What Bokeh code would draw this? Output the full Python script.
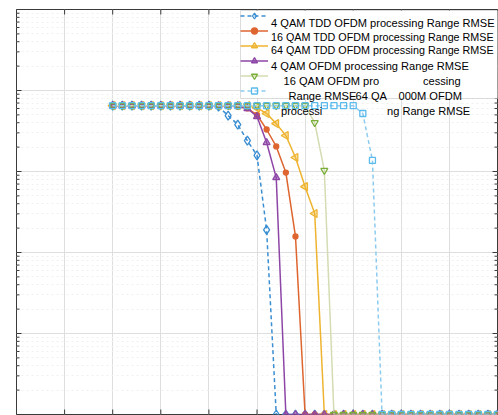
import numpy as np
from bokeh.plotting import figure
from bokeh.models import (Range1d, FixedTicker, Legend, LegendItem, BoxAnnotation, Label)
from bokeh.core.properties import value
from bokeh.embed import file_html
from bokeh.resources import INLINE

# ---------------- data ----------------
snr = [10, 11, 12, 13, 14, 15, 16, 17, 18, 19, 20, 21, 22, 23, 24, 25, 26, 27, 28, 29,
       30, 31, 32, 33, 34, 35, 36, 37, 38, 39, 40, 41, 42, 43, 44, 45, 46, 47, 48, 49, 50]

rmse_4qam_tdd = [0.65, 0.65, 0.65, 0.65, 0.65, 0.65, 0.65, 0.65, 0.65, 0.65, 0.65,
                 0.63, 0.49, 0.38, 0.24, 0.158, 0.019,
                 1e-4, 1e-4, 1e-4, 1e-4, 1e-4, 1e-4, 1e-4, 1e-4, 1e-4, 1e-4, 1e-4, 1e-4,
                 1e-4, 1e-4, 1e-4, 1e-4, 1e-4, 1e-4, 1e-4, 1e-4, 1e-4, 1e-4, 1e-4, 1e-4]
rmse_16qam_tdd = [0.65, 0.65, 0.65, 0.65, 0.65, 0.65, 0.65, 0.65, 0.65, 0.65, 0.65, 0.65, 0.65,
                  0.63, 0.60, 0.50, 0.33, 0.204, 0.097, 0.0158,
                  1e-4, 1e-4, 1e-4, 1e-4, 1e-4, 1e-4, 1e-4, 1e-4, 1e-4, 1e-4, 1e-4,
                  1e-4, 1e-4, 1e-4, 1e-4, 1e-4, 1e-4, 1e-4, 1e-4, 1e-4, 1e-4]
rmse_64qam_tdd = [0.65, 0.65, 0.65, 0.65, 0.65, 0.65, 0.65, 0.65, 0.65, 0.65, 0.65, 0.65, 0.65,
                  0.65, 0.65,
                  0.61, 0.52, 0.39, 0.278, 0.149, 0.065, 0.0303,
                  1e-4, 1e-4, 1e-4, 1e-4, 1e-4, 1e-4, 1e-4, 1e-4, 1e-4, 1e-4,
                  1e-4, 1e-4, 1e-4, 1e-4, 1e-4, 1e-4, 1e-4, 1e-4, 1e-4]
rmse_4qam_ofdm = [0.65, 0.65, 0.65, 0.65, 0.65, 0.65, 0.65, 0.65, 0.65, 0.65, 0.65, 0.65, 0.65,
                  0.65,
                  0.60, 0.477, 0.228, 0.084,
                  1e-4, 1e-4, 1e-4, 1e-4, 1e-4, 1e-4, 1e-4, 1e-4, 1e-4, 1e-4, 1e-4, 1e-4,
                  1e-4, 1e-4, 1e-4, 1e-4, 1e-4, 1e-4, 1e-4, 1e-4, 1e-4, 1e-4, 1e-4]
rmse_16qam_ofdm = [0.65, 0.65, 0.65, 0.65, 0.65, 0.65, 0.65, 0.65, 0.65, 0.65, 0.65, 0.65, 0.65,
                   0.65, 0.65, 0.65, 0.65, 0.65, 0.65, 0.65, 0.65,
                   0.40, 0.103,
                   1e-4, 1e-4, 1e-4, 1e-4, 1e-4, 1e-4, 1e-4, 1e-4, 1e-4,
                   1e-4, 1e-4, 1e-4, 1e-4, 1e-4, 1e-4, 1e-4, 1e-4, 1e-4]
rmse_64qam_ofdm = [0.65, 0.65, 0.65, 0.65, 0.65, 0.65, 0.65, 0.65, 0.65, 0.65, 0.65, 0.65, 0.65,
                   0.65, 0.65, 0.65, 0.65, 0.65, 0.65, 0.65, 0.65, 0.65, 0.65, 0.65, 0.65, 0.65,
                   0.52, 0.137,
                   1e-4, 1e-4, 1e-4, 1e-4, 1e-4, 1e-4, 1e-4, 1e-4, 1e-4, 1e-4, 1e-4, 1e-4, 1e-4]

x_ticks = [0, 5, 10, 15, 20, 25, 30, 35, 40, 45, 50]
y_ticks = [1e-4, 1e-3, 1e-2, 1e-1, 1e0, 1e1]
y_minor_ticks = [m * d for d in y_ticks[:-1] for m in (2, 3, 4, 5, 6, 7, 8, 9)]
X_MIN, X_MAX, Y_MIN, Y_MAX = 0, 50, 1e-4, 10

# legend text fragments as they appear in the picture (text, canvas x, canvas y, font px)
legend_texts = [
    ("4 QAM TDD OFDM processing Range RMSE", 270.5, 22.5, "11.1px"),
    ("16 QAM TDD OFDM processing Range RMSE", 270.5, 36.0, "10.75px"),
    ("64 QAM TDD OFDM processing Range RMSE", 270.5, 49.5, "10.75px"),
    ("4 QAM OFDM processing Range RMSE", 270.5, 65.5, "11.1px"),
    ("16 QAM OFDM pro", 283.0, 80.0, "11.1px"),
    ("cessing", 422.5, 80.0, "11.1px"),
    ("Range RMSE", 288.0, 95.0, "11.1px"),
    ("64 QA", 355.0, 95.0, "11.1px"),
    ("000M OFDM", 398.0, 95.0, "11.1px"),
    ("processi", 280.5, 110.0, "11.1px"),
    ("ng Range RMSE", 386.5, 110.0, "11.1px"),
]

# ---------------- figure ----------------
W, H = 498, 415
ML, MR, MT, MB = 16, 1, 9, 1
p = figure(width=W, height=H, x_range=Range1d(X_MIN, X_MAX), y_range=Range1d(Y_MIN, Y_MAX),
           y_axis_type="log", output_backend="svg", toolbar_location=None,
           min_border_left=ML, min_border_right=MR, min_border_top=MT, min_border_bottom=MB,
           background_fill_color="white", border_fill_color="white")
p.outline_line_color = "#3a3a3a"
p.outline_line_width = 1
p.xaxis.visible = False
p.yaxis.visible = False

xt = FixedTicker(ticks=x_ticks, minor_ticks=[])
yt = FixedTicker(ticks=y_ticks, minor_ticks=y_minor_ticks)
p.xgrid.ticker = xt
p.ygrid.ticker = yt
p.xgrid.grid_line_color = "#dedede"
p.ygrid.grid_line_color = "#dedede"
p.ygrid.minor_grid_line_color = "#f0f0f0"
p.ygrid.minor_grid_line_dash = "2 3"

# inward tick marks: half-clipped dash markers on the frame edges
tick_col = "#3a3a3a"
for yy in (Y_MIN, Y_MAX):
    p.scatter(x_ticks, [yy] * len(x_ticks), marker="dash", angle=np.pi / 2, size=10,
              line_color=tick_col, line_width=1)
for xx in (X_MIN, X_MAX):
    p.scatter([xx] * len(y_ticks), y_ticks, marker="dash", size=10,
              line_color=tick_col, line_width=1)
    p.scatter([xx] * len(y_minor_ticks), y_minor_ticks, marker="dash", size=6,
              line_color=tick_col, line_width=1)

styles = [
    dict(data=rmse_4qam_tdd, color="#3a8ed2", line="#3a8ed2", dash="4 3", marker="diamond",
         size=9, fill_alpha=0.0, angle=0.0),
    dict(data=rmse_16qam_tdd, color="#de6530", line="#de6530", dash="solid", marker="circle",
         size=5, fill_alpha=1.0, angle=0.0),
    dict(data=rmse_64qam_tdd, color="#eeb430", line="#eeb430", dash="solid", marker="triangle",
         size=8, fill_alpha=0.4, angle=np.pi / 2),
    dict(data=rmse_4qam_ofdm, color="#8e46a6", line="#8e46a6", dash="solid", marker="triangle",
         size=7, fill_alpha=0.6, angle=0.0),
    dict(data=rmse_16qam_ofdm, color="#7aae38", line="#d3dcb2", dash="solid", marker="inverted_triangle",
         size=7, fill_alpha=0.0, angle=0.0),
    dict(data=rmse_64qam_ofdm, color="#5bbbec", line="#8ccbef", dash="4 3", marker="square",
         size=6, fill_alpha=0.0, angle=0.0),
]

items = []
for s in styles:
    rl = p.line(snr, s["data"], line_color=s["line"], line_width=1.5, line_dash=s["dash"])
    rm = p.scatter(snr, s["data"], marker=s["marker"], size=s["size"], line_color=s["color"],
                   fill_color=s["color"], fill_alpha=s["fill_alpha"], line_width=1.3,
                   angle=s["angle"])
    items.append(LegendItem(label=value(""), renderers=[rl, rm]))

# legend box
box = BoxAnnotation(left=240 - ML, right=W, top=H - MB - 10, bottom=H - MB - 98,
                    left_units="screen", right_units="screen", top_units="screen",
                    bottom_units="screen", fill_color="white", fill_alpha=1.0,
                    line_color="#8a8a8a", line_width=1)
p.add_layout(box)

legend = Legend(items=items, location=(240 - ML, (H - MB) - 97.5), padding=0, margin=0,
                spacing=0, glyph_width=28, glyph_height=15, label_height=15, label_width=1,
                label_standoff=0, border_line_alpha=0, background_fill_alpha=0,
                label_text_font_size="10px")
p.add_layout(legend)

for txt, cx, cy, fs in legend_texts:
    p.add_layout(Label(x=cx - ML, y=(H - MB) - cy, x_units="screen", y_units="screen",
                       text=txt, text_font="Liberation Sans", text_font_size=fs,
                       text_color="#000000", text_baseline="middle", text_align="left"))

open("out.html", "w").write(file_html(p, INLINE))
